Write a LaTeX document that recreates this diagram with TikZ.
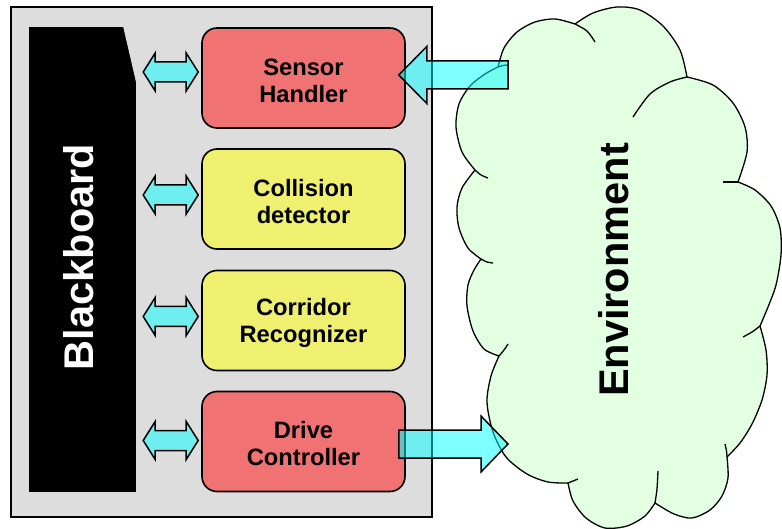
\documentclass[tikz,border=0pt]{standalone}
\usepackage{fontspec}
\setmainfont{Liberation Sans}
\usetikzlibrary{calc}
\definecolor{boxred}{RGB}{240,114,114}
\definecolor{boxyellow}{RGB}{240,240,112}
\definecolor{panelgray}{RGB}{221,221,221}
\definecolor{cloudgreen}{RGB}{226,255,226}
\definecolor{arrowcyan}{RGB}{0,255,255}
\newcommand{\mytopstrut}{\rule{0pt}{22pt}}
\begin{document}
\begin{tikzpicture}[x=1pt,y=-1pt,
  modbox/.style={draw=black, line width=1.6pt, rounded corners=15pt, minimum width=203pt, minimum height=100pt, align=center, inner sep=0pt, font=\fontsize{23.7}{27}\selectfont\bfseries},
  redbox/.style={modbox, fill=boxred},
  yellowbox/.style={modbox, fill=boxyellow},
  bigtext/.style={rotate=90, inner sep=0pt, font=\fontsize{41.5}{48}\selectfont\bfseries},
  fatarrow/.style={draw=black, line width=1.5pt, fill=arrowcyan, fill opacity=0.5, line join=miter},
  cloudline/.style={draw=black, line width=1.3pt},
  fatdouble/.style={to path={(\tikztostart) -- ($(\tikztostart)+(12,-19)$) -- ($(\tikztostart)+(12,-10)$) -- ($(\tikztotarget)+(-12,-10)$) -- ($(\tikztotarget)+(-12,-19)$) -- (\tikztotarget) -- ($(\tikztotarget)+(-12,19)$) -- ($(\tikztotarget)+(-12,10)$) -- ($(\tikztostart)+(12,10)$) -- ($(\tikztostart)+(12,19)$) -- cycle}},
  fatleft/.style={to path={($(\tikztostart)+(0,-14)$) -- ($(\tikztotarget)+(28,-14)$) -- ($(\tikztotarget)+(28,-28.5)$) -- (\tikztotarget) -- ($(\tikztotarget)+(28,28.5)$) -- ($(\tikztotarget)+(28,14)$) -- ($(\tikztostart)+(0,14)$) -- cycle}},
  fatright/.style={to path={($(\tikztostart)+(0,-14)$) -- ($(\tikztotarget)+(-27,-14)$) -- ($(\tikztotarget)+(-27,-28)$) -- (\tikztotarget) -- ($(\tikztotarget)+(-27,28)$) -- ($(\tikztotarget)+(-27,14)$) -- ($(\tikztostart)+(0,14)$) -- cycle}}
]
\useasboundingbox (0,0) rectangle (782,529);
\fill[white] (0,0) rectangle (782,529);

% panel
\draw[fill=panelgray, line width=1.5pt] (11,7) rectangle (432,517);

% blackboard
\node[fill=black, draw=none, minimum width=107pt, minimum height=465pt, inner sep=0pt] (bb) at (82.5,259.5) {};
\fill[panelgray] (bb.north east) -- ($(bb.north east)+(-13,0)$) -- ($(bb.north east)+(0,56)$) -- cycle;
\node[bigtext, text=white] (bbtext) at (79,257) {Blackboard};

% modules
\node[redbox] (sensor) at (303.5,78) {\mytopstrut Sensor\\Handler};
\node[yellowbox] (collision) at (303.5,199) {\mytopstrut Collision\\detector};
\node[yellowbox] (corridor) at (303.5,320.5) {\mytopstrut Corridor\\Recognizer};
\node[redbox] (drive) at (303.5,441.5) {\mytopstrut Drive\\Controller};

% double arrows
\coordinate (d1a) at ($(bb.east|-sensor.west)+(7,-6)$);
\coordinate (d1b) at ($(sensor.west)+(-3,-6)$);
\coordinate (d2a) at ($(bb.east|-collision.west)+(7,-4)$);
\coordinate (d2b) at ($(collision.west)+(-3,-4)$);
\coordinate (d3a) at ($(bb.east|-corridor.west)+(7,-4)$);
\coordinate (d3b) at ($(corridor.west)+(-3,-4)$);
\coordinate (d4a) at ($(bb.east|-drive.west)+(7,-1)$);
\coordinate (d4b) at ($(drive.west)+(-3,-1)$);
\draw[fatarrow, fatdouble] (d1a) to (d1b);
\draw[fatarrow, fatdouble] (d2a) to (d2b);
\draw[fatarrow, fatdouble] (d3a) to (d3b);
\draw[fatarrow, fatdouble] (d4a) to (d4b);

% cloud
\path[cloudline, fill=cloudgreen]
  plot[smooth] coordinates {(475,170) (462,152) (456,127) (459,104) (470,86) (485,74) (498,67)}
  -- plot[smooth] coordinates {(498,67) (504,48) (517,32) (535,22) (555,19) (575,24)}
  -- plot[smooth] coordinates {(575,24) (593,13) (617,7) (640,10) (663,26) (680,50) (687,77)}
  -- plot[smooth] coordinates {(687,77) (713,85) (733,103) (745,127) (747,152) (738,182)}
  -- plot[smooth] coordinates {(738,182) (755,190) (771,206) (780,228) (781,255) (776,285) (768,307) (760,326)}
  -- plot[smooth] coordinates {(760,326) (766,350) (767,375) (762,400) (752,424) (740,443) (727,457)}
  -- plot[smooth] coordinates {(727,457) (728,478) (722,496) (710,510) (692,518) (674,514) (655,503)}
  -- plot[smooth] coordinates {(655,503) (645,516) (627,526) (605,528) (586,518) (573,501) (568,483)}
  -- plot[smooth] coordinates {(568,483) (548,482) (527,474) (506,457) (493,432) (487,402) (491,376) (499,356)}
  -- plot[smooth] coordinates {(499,356) (484,349) (473,331) (467,306) (468,285) (474,270) (481,259)}
  -- plot[smooth] coordinates {(481,259) (468,248) (459,228) (457,207) (462,188) (475,170)}
  -- cycle;
\draw[cloudline] plot[smooth] coordinates {(475,170) (481,175) (488,178)};
\draw[cloudline] plot[smooth] coordinates {(498,67) (503,65.5) (508,65)};
\draw[cloudline] plot[smooth] coordinates {(575,24) (587,31) (595,42)};
\draw[cloudline] plot[smooth] coordinates {(633,117) (650,94) (670,82) (687,77)};
\draw[cloudline] plot[smooth] coordinates {(723,182) (731,182) (738,182)};
\draw[cloudline] plot[smooth] coordinates {(760,326) (752,332) (743,337)};
\draw[cloudline] plot[smooth] coordinates {(725,444) (726.5,451) (727,457)};
\draw[cloudline] plot[smooth] coordinates {(658,471) (657,489) (655,503)};
\draw[cloudline] plot[smooth] coordinates {(578,479) (573,481) (568,483)};
\draw[cloudline] plot[smooth] coordinates {(499,356) (504,350) (508,344)};
\draw[cloudline] plot[smooth] coordinates {(481,259) (487,262) (493,263)};
\node[bigtext] (envtext) at (614,270) {Environment};

% environment arrows
\coordinate (envin) at (508,75);
\coordinate (sensortip) at ($(sensor.east)+(-7,-3)$);
\coordinate (drivetail) at ($(drive.east)+(-7,2.5)$);
\coordinate (envout) at (508,444);
\draw[fatarrow, fatleft] (envin) to (sensortip);
\draw[fatarrow, fatright] (drivetail) to (envout);
\end{tikzpicture}
\end{document}
